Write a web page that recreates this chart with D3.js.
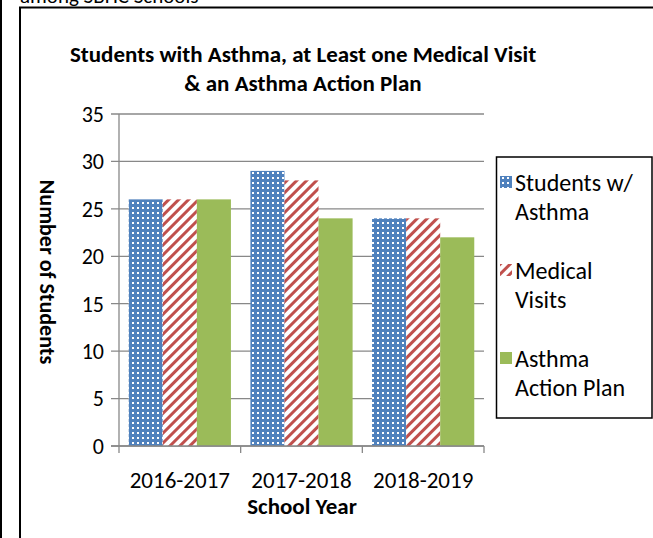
<!DOCTYPE html>
<html><head><meta charset="utf-8">
<script src="https://cdn.jsdelivr.net/npm/d3@7/dist/d3.min.js"></script>
<style>body{margin:0;background:#fff}svg{display:block}</style>
</head><body>
<svg id="c" width="653" height="538"></svg>
<script>
const categories = ["2016-2017", "2017-2018", "2018-2019"];
const seriesNames = ["Students w/ Asthma", "Medical Visits", "Asthma Action Plan"];
const studentsWithAsthma = [26, 29, 24];
const medicalVisits = [26, 28, 24];
const actionPlan = [26, 24, 22];
const yTicks = [0, 5, 10, 15, 20, 25, 30, 35];
const legendLines = [["Students w/", "Asthma"], ["Medical", "Visits"], ["Asthma", "Action Plan"]];

const FONT = "Carlito, Calibri, Lato, sans-serif";
const svg = d3.select("#c");
const defs = svg.append("defs");
const pd = defs.append("pattern").attr("id","dots").attr("patternUnits","userSpaceOnUse").attr("width",5).attr("height",5);
pd.append("rect").attr("width",5).attr("height",5).attr("fill","#4F81BD");
pd.append("rect").attr("x",2).attr("y",2).attr("width",2).attr("height",2).attr("fill","#fff");
const ps = defs.append("pattern").attr("id","stripes").attr("patternUnits","userSpaceOnUse").attr("width",7).attr("height",7).attr("patternTransform","rotate(45)");
ps.append("rect").attr("width",7).attr("height",7).attr("fill","#fff");
ps.append("rect").attr("width",3).attr("height",7).attr("fill","#C0504D");
const fills = ["url(#dots)", "url(#stripes)", "#9BBB59"];

svg.append("line").attr("x1",1).attr("x2",1).attr("y1",0).attr("y2",538).attr("stroke","#000").attr("stroke-width",2);
svg.append("text").attr("x",20).attr("y",3).attr("font-family",FONT).attr("font-size",21).text("among SBHC Schools");
svg.append("path").attr("d","M20,538 V7.5 H660").attr("fill","none").attr("stroke","#000").attr("stroke-width",2);

const title = svg.append("text").attr("text-anchor","middle").attr("font-family",FONT).attr("font-weight","bold").attr("font-size",23).attr("fill","#000");
title.append("tspan").attr("x",303).attr("y",62).text("Students with Asthma, at Least one Medical Visit");
title.append("tspan").attr("x",303).attr("y",91).text("& an Asthma Action Plan");

const y = d3.scaleLinear().domain([0,35]).range([446,114]);
const x0 = d3.scaleBand().domain(categories).range([119,484]).paddingInner(0.16).paddingOuter(0.08);
const x1 = d3.scaleBand().domain(d3.range(3)).range([0, x0.bandwidth()]);

svg.append("g").selectAll("line").data(yTicks).join("line")
  .attr("x1",111).attr("x2",484).attr("y1",d=>y(d)).attr("y2",d=>y(d))
  .attr("stroke","#888").attr("stroke-width",1.3);
svg.append("line").attr("x1",119).attr("x2",119).attr("y1",y(35)).attr("y2",y(0)).attr("stroke","#888").attr("stroke-width",1.3);
svg.append("g").selectAll("text").data(yTicks).join("text")
  .attr("x",104).attr("y",d=>y(d)).attr("dy","0.36em").attr("text-anchor","end")
  .attr("font-family",FONT).attr("font-size",22).text(d=>d);

const series = [studentsWithAsthma, medicalVisits, actionPlan];
categories.forEach((c,ci)=>{
  series.forEach((s,si)=>{
    svg.append("rect").attr("x",x0(c)+x1(si)).attr("width",x1.bandwidth())
      .attr("y",y(s[ci])).attr("height",y(0)-y(s[ci])).attr("fill",fills[si]);
  });
});

const xAxisG = svg.append("g");
xAxisG.append("line").attr("x1",111).attr("x2",484).attr("y1",y(0)).attr("y2",y(0)).attr("stroke","#888").attr("stroke-width",1.3);
const step = (484-119)/categories.length;
xAxisG.selectAll("line.t").data(d3.range(categories.length+1)).join("line").attr("class","t")
  .attr("x1",d=>119+d*step).attr("x2",d=>119+d*step).attr("y1",y(0)).attr("y2",y(0)+7)
  .attr("stroke","#888").attr("stroke-width",1.3);
xAxisG.selectAll("text").data(categories).join("text")
  .attr("x",d=>x0(d)+x0.bandwidth()/2).attr("y",488).attr("text-anchor","middle")
  .attr("font-family",FONT).attr("font-size",23).text(d=>d);

svg.append("text").attr("x",302).attr("y",514).attr("text-anchor","middle").attr("font-family",FONT)
  .attr("font-weight","bold").attr("font-size",23).text("School Year");
svg.append("text").attr("transform","translate(40,272) rotate(90)").attr("text-anchor","middle")
  .attr("font-family",FONT).attr("font-weight","bold").attr("font-size",22).text("Number of Students");

svg.append("rect").attr("x",496.5).attr("y",157).attr("width",155.5).attr("height",261).attr("fill","#fff").attr("stroke","#000").attr("stroke-width",1.5);
const lg = svg.append("g");
legendLines.forEach((lines,i)=>{
  const top = 182 + i*88;
  lg.append("rect").attr("x",500).attr("y",top-6).attr("width",12).attr("height",12).attr("fill",fills[i]);
  lines.forEach((t,j)=>{
    lg.append("text").attr("x",515).attr("y",top+j*29).attr("dy","0.36em")
      .attr("font-family",FONT).attr("font-size",24).text(t);
  });
});
</script>
</body></html>
